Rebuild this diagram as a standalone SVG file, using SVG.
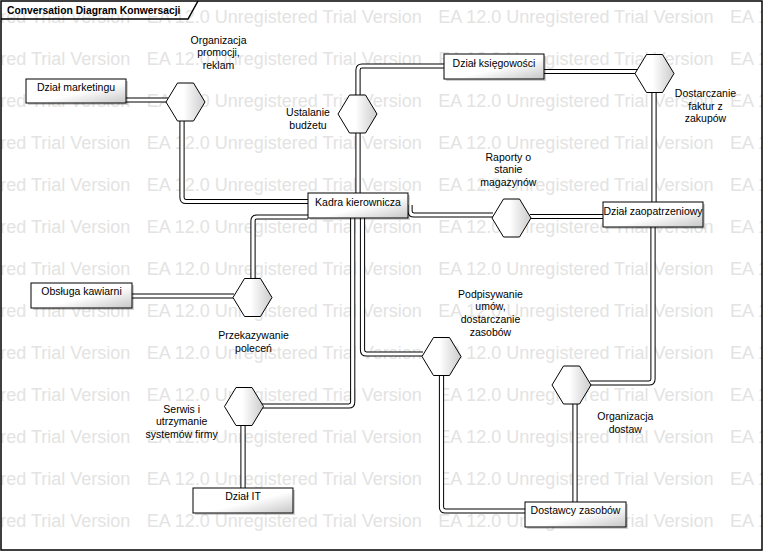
<svg xmlns="http://www.w3.org/2000/svg" xmlns:xlink="http://www.w3.org/1999/xlink" width="763" height="551" viewBox="0 0 763 551">
<style>
.wm{font-family:"Liberation Sans",Arial,sans-serif;font-size:18px;fill:#e3e3e3}
.frame{fill:none;stroke:#000;stroke-width:1.5}
.title{font-family:"Liberation Sans",Arial,sans-serif;font-size:10.3px;font-weight:bold;fill:#000}
.co{fill:none;stroke:#000;stroke-width:5.2}
.ci{fill:none;stroke:#fff;stroke-width:3.2}
.box{fill:url(#gb);stroke:#000;stroke-width:1}
.shadow{fill:#000;opacity:0.18}
.hex{fill:url(#gh);stroke:#000;stroke-width:1}
.t{font-family:"Liberation Sans",Arial,sans-serif;font-size:10.5px;fill:#000;text-anchor:middle}
</style>
<defs>
<linearGradient id="gb" x1="0" y1="0" x2="1" y2="1">
<stop offset="0" stop-color="#fff"/><stop offset="0.55" stop-color="#fff"/><stop offset="1" stop-color="#c6c6c6"/>
</linearGradient>
<linearGradient id="gh" x1="0" y1="0" x2="1" y2="0">
<stop offset="0" stop-color="#fff"/><stop offset="0.45" stop-color="#fff"/><stop offset="1" stop-color="#cbcbcb"/>
</linearGradient>
<polygon id="hx" points="-19.5,0 -8,-19 8,-19 19.5,0 8,19 -8,19"/>
<path id="p1" d="M126,100 H168"/>
<path id="p2" d="M182,121 V197.5 Q182,201.5 186,201.5 H308"/>
<path id="p3" d="M358,133 V193"/>
<path id="p4" d="M358,95 V70 Q358,66 362,66 H444"/>
<path id="p5" d="M544,71.5 H637"/>
<path id="p6" d="M654,92.5 V202"/>
<path id="p7" d="M653,227 V379 Q653,383 649,383 H590"/>
<path id="p8" d="M575,404 V502"/>
<path id="p9" d="M410,205 V211 Q410,215 414,215 H493"/>
<path id="p10" d="M530,216.5 H603"/>
<path id="p11" d="M362.5,218 V350 Q362.5,354 366.5,354 H423"/>
<path id="p12" d="M352.7,218 V402 Q352.7,406 348.7,406 H262"/>
<path id="p13" d="M243,425.5 V488"/>
<path id="p14" d="M441.5,375.5 V507 Q441.5,511 445.5,511 H525"/>
<path id="p15" d="M132,296 H234"/>
<path id="p16" d="M308,217 H257 Q253,217 253,221 V279"/>
</defs>
<rect width="763" height="551" fill="#fff"/>
<g id="watermark">
<text class="wm" y="23"><tspan x="-144.9">EA 12.0 Unregistered Trial Version</tspan><tspan x="146.7">EA 12.0 Unregistered Trial Version</tspan><tspan x="438.3">EA 12.0 Unregistered Trial Version</tspan><tspan x="729.9">EA 12.0 Unregistered Trial Version</tspan></text>
<text class="wm" y="65"><tspan x="-144.9">EA 12.0 Unregistered Trial Version</tspan><tspan x="146.7">EA 12.0 Unregistered Trial Version</tspan><tspan x="438.3">EA 12.0 Unregistered Trial Version</tspan><tspan x="729.9">EA 12.0 Unregistered Trial Version</tspan></text>
<text class="wm" y="107"><tspan x="-144.9">EA 12.0 Unregistered Trial Version</tspan><tspan x="146.7">EA 12.0 Unregistered Trial Version</tspan><tspan x="438.3">EA 12.0 Unregistered Trial Version</tspan><tspan x="729.9">EA 12.0 Unregistered Trial Version</tspan></text>
<text class="wm" y="149"><tspan x="-144.9">EA 12.0 Unregistered Trial Version</tspan><tspan x="146.7">EA 12.0 Unregistered Trial Version</tspan><tspan x="438.3">EA 12.0 Unregistered Trial Version</tspan><tspan x="729.9">EA 12.0 Unregistered Trial Version</tspan></text>
<text class="wm" y="191"><tspan x="-144.9">EA 12.0 Unregistered Trial Version</tspan><tspan x="146.7">EA 12.0 Unregistered Trial Version</tspan><tspan x="438.3">EA 12.0 Unregistered Trial Version</tspan><tspan x="729.9">EA 12.0 Unregistered Trial Version</tspan></text>
<text class="wm" y="233"><tspan x="-144.9">EA 12.0 Unregistered Trial Version</tspan><tspan x="146.7">EA 12.0 Unregistered Trial Version</tspan><tspan x="438.3">EA 12.0 Unregistered Trial Version</tspan><tspan x="729.9">EA 12.0 Unregistered Trial Version</tspan></text>
<text class="wm" y="275"><tspan x="-144.9">EA 12.0 Unregistered Trial Version</tspan><tspan x="146.7">EA 12.0 Unregistered Trial Version</tspan><tspan x="438.3">EA 12.0 Unregistered Trial Version</tspan><tspan x="729.9">EA 12.0 Unregistered Trial Version</tspan></text>
<text class="wm" y="317"><tspan x="-144.9">EA 12.0 Unregistered Trial Version</tspan><tspan x="146.7">EA 12.0 Unregistered Trial Version</tspan><tspan x="438.3">EA 12.0 Unregistered Trial Version</tspan><tspan x="729.9">EA 12.0 Unregistered Trial Version</tspan></text>
<text class="wm" y="359"><tspan x="-144.9">EA 12.0 Unregistered Trial Version</tspan><tspan x="146.7">EA 12.0 Unregistered Trial Version</tspan><tspan x="438.3">EA 12.0 Unregistered Trial Version</tspan><tspan x="729.9">EA 12.0 Unregistered Trial Version</tspan></text>
<text class="wm" y="401"><tspan x="-144.9">EA 12.0 Unregistered Trial Version</tspan><tspan x="146.7">EA 12.0 Unregistered Trial Version</tspan><tspan x="438.3">EA 12.0 Unregistered Trial Version</tspan><tspan x="729.9">EA 12.0 Unregistered Trial Version</tspan></text>
<text class="wm" y="443"><tspan x="-144.9">EA 12.0 Unregistered Trial Version</tspan><tspan x="146.7">EA 12.0 Unregistered Trial Version</tspan><tspan x="438.3">EA 12.0 Unregistered Trial Version</tspan><tspan x="729.9">EA 12.0 Unregistered Trial Version</tspan></text>
<text class="wm" y="485"><tspan x="-144.9">EA 12.0 Unregistered Trial Version</tspan><tspan x="146.7">EA 12.0 Unregistered Trial Version</tspan><tspan x="438.3">EA 12.0 Unregistered Trial Version</tspan><tspan x="729.9">EA 12.0 Unregistered Trial Version</tspan></text>
<text class="wm" y="527"><tspan x="-144.9">EA 12.0 Unregistered Trial Version</tspan><tspan x="146.7">EA 12.0 Unregistered Trial Version</tspan><tspan x="438.3">EA 12.0 Unregistered Trial Version</tspan><tspan x="729.9">EA 12.0 Unregistered Trial Version</tspan></text>
</g>
<g id="frame">
<rect class="frame" x="1" y="1" width="761" height="549"/>
<path class="frame" d="M1,19 H188 L198,1"/>
<text class="title" x="7" y="13.5">Conversation Diagram Konwersacji</text>
</g>
<g id="connectors">
<use href="#p1" class="co"/><use href="#p2" class="co"/><use href="#p3" class="co"/><use href="#p4" class="co"/>
<use href="#p5" class="co"/><use href="#p6" class="co"/><use href="#p7" class="co"/><use href="#p8" class="co"/>
<use href="#p9" class="co"/><use href="#p10" class="co"/><use href="#p11" class="co"/><use href="#p12" class="co"/>
<use href="#p13" class="co"/><use href="#p14" class="co"/><use href="#p15" class="co"/><use href="#p16" class="co"/>
<use href="#p1" class="ci"/><use href="#p2" class="ci"/><use href="#p3" class="ci"/><use href="#p4" class="ci"/>
<use href="#p5" class="ci"/><use href="#p6" class="ci"/><use href="#p7" class="ci"/><use href="#p8" class="ci"/>
<use href="#p9" class="ci"/><use href="#p10" class="ci"/><use href="#p11" class="ci"/><use href="#p12" class="ci"/>
<use href="#p13" class="ci"/><use href="#p14" class="ci"/><use href="#p15" class="ci"/><use href="#p16" class="ci"/>
</g>
<g id="dzial-marketingu">
<rect class="shadow" x="28" y="81" width="100" height="24"/>
<rect class="box" x="26" y="79" width="100" height="24"/>
<text class="t" x="76" y="91">Dział marketingu</text>
</g>
<g id="kadra-kierownicza">
<rect class="shadow" x="310" y="195" width="100" height="25"/>
<rect class="box" x="308" y="193" width="100" height="25"/>
<text class="t" x="358" y="205.5">Kadra kierownicza</text>
</g>
<g id="dzial-ksiegowosci">
<rect class="shadow" x="446" y="56" width="100" height="25"/>
<rect class="box" x="444" y="54" width="100" height="25"/>
<text class="t" x="494" y="66.5">Dział księgowości</text>
</g>
<g id="dzial-zaopatrzeniowy">
<rect class="shadow" x="605" y="204" width="100" height="25"/>
<rect class="box" x="603" y="202" width="100" height="25"/>
<text class="t" x="653" y="214.5">Dział zaopatrzeniowy</text>
</g>
<g id="obsluga-kawiarni">
<rect class="shadow" x="33" y="285" width="101" height="25"/>
<rect class="box" x="31" y="283" width="101" height="25"/>
<text class="t" x="81.5" y="295.3">Obsługa kawiarni</text>
</g>
<g id="dzial-it">
<rect class="shadow" x="195" y="490" width="100" height="25"/>
<rect class="box" x="193" y="488" width="100" height="25"/>
<text class="t" x="243" y="500.3">Dział IT</text>
</g>
<g id="dostawcy-zasobow">
<rect class="shadow" x="527" y="504" width="101" height="25"/>
<rect class="box" x="525" y="502" width="101" height="25"/>
<text class="t" x="575.5" y="514">Dostawcy zasobów</text>
</g>
<g id="conv-promocja">
<use href="#hx" class="hex" x="185.5" y="102"/>
<text class="t" x="218.5" y="43.5">Organizacja</text>
<text class="t" x="218.5" y="56.2">promocji,</text>
<text class="t" x="218.5" y="68.9">reklam</text>
</g>
<g id="conv-budzet">
<use href="#hx" class="hex" x="357.5" y="114"/>
<text class="t" x="308" y="116">Ustalanie</text>
<text class="t" x="308" y="128.7">budżetu</text>
</g>
<g id="conv-faktury">
<use href="#hx" class="hex" x="654.5" y="73.5"/>
<text class="t" x="705.5" y="96.8">Dostarczanie</text>
<text class="t" x="705.5" y="109.5">faktur z</text>
<text class="t" x="705.5" y="122.2">zakupów</text>
</g>
<g id="conv-raporty">
<use href="#hx" class="hex" x="511.5" y="218"/>
<text class="t" x="508.3" y="160.5">Raporty o</text>
<text class="t" x="508.3" y="173.2">stanie</text>
<text class="t" x="508.3" y="185.9">magazynów</text>
</g>
<g id="conv-polecenia">
<use href="#hx" class="hex" x="252.5" y="297.5"/>
<text class="t" x="253.5" y="339.2">Przekazywanie</text>
<text class="t" x="253.5" y="351.9">poleceń</text>
</g>
<g id="conv-umowy">
<use href="#hx" class="hex" x="441.5" y="356.5"/>
<text class="t" x="490.5" y="297.7">Podpisywanie</text>
<text class="t" x="490.5" y="310.4">umów,</text>
<text class="t" x="490.5" y="323.1">dostarczanie</text>
<text class="t" x="490.5" y="335.8">zasobów</text>
</g>
<g id="conv-dostawy">
<use href="#hx" class="hex" x="571.5" y="385"/>
<text class="t" x="625.3" y="420">Organizacja</text>
<text class="t" x="625.3" y="432.7">dostaw</text>
</g>
<g id="conv-serwis">
<use href="#hx" class="hex" x="244" y="406.5"/>
<text class="t" x="181.7" y="412.7">Serwis i</text>
<text class="t" x="181.7" y="425.4">utrzymanie</text>
<text class="t" x="181.7" y="438.1">systemów firmy</text>
</g>
</svg>
